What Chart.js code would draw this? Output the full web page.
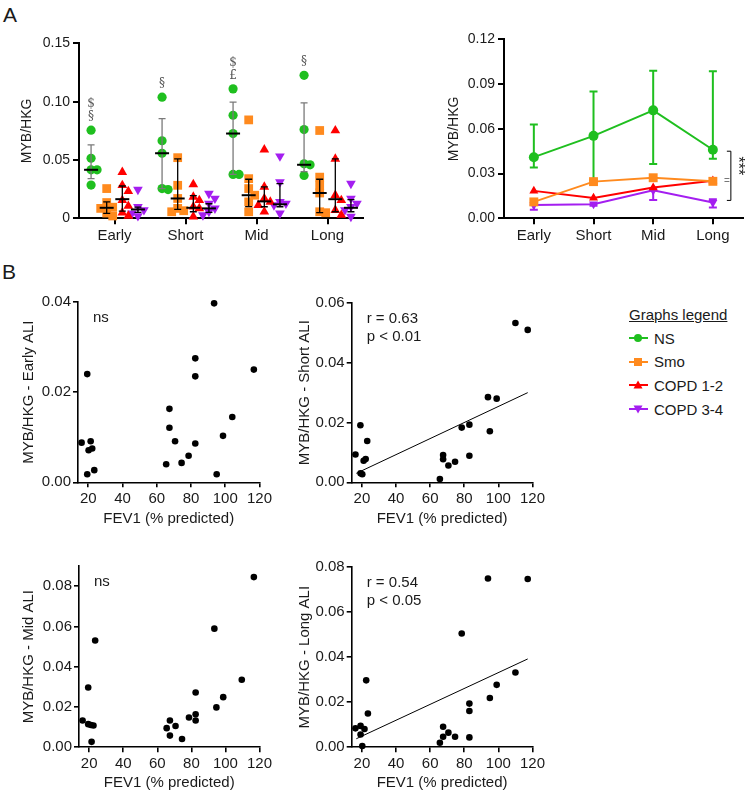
<!DOCTYPE html>
<html>
<head>
<meta charset="utf-8">
<script src="https://cdn.jsdelivr.net/npm/chart.js@4.4.1/dist/chart.umd.min.js"></script>
<style>
  body { margin: 0; width: 750px; height: 793px; overflow: hidden; background: #fff; position: relative;
         font-family: 'Liberation Sans', Arial, Helvetica, sans-serif; color: #1a1a1a; }
  canvas { position: absolute; }
  .panel { position: absolute; font-size: 21px; line-height: 21px; }
  #legend { position: absolute; left: 629px; top: 305px; font-size: 15px; }
  #legend .lt { text-decoration: underline; height: 19px; line-height: 19px; white-space: nowrap; }
  #legend .li { position: absolute; left: 0; height: 19px; line-height: 19px; white-space: nowrap; }
  #legend svg { position: absolute; left: 0; top: 3.5px; }
  #legend span { position: absolute; left: 25px; top: 0; }
</style>
</head>
<body>
<div class="panel" style="left:3px;top:4px">A</div>
<div class="panel" style="left:2px;top:261px">B</div>
<canvas id="dotChart"></canvas>
<canvas id="lineChart"></canvas>
<canvas id="earlyChart"></canvas>
<canvas id="shortChart"></canvas>
<canvas id="midChart"></canvas>
<canvas id="longChart"></canvas>
<div id="legend"></div>

<script>
// ---- data ----
const timepoints = ['Early', 'Short', 'Mid', 'Long'];
const groupNames = ['NS', 'Smo', 'COPD 1-2', 'COPD 3-4'];
const groupColors = ['#1fbf1f', '#ff8a1e', '#ff0000', '#a41ef0'];

// panel A left: individual values per timepoint
const nsValues = [
  [0.0756, 0.0515, 0.0416, 0.0416, 0.0285],
  [0.1039, 0.0665, 0.0558, 0.0255, 0.0246],
  [0.111, 0.0884, 0.0727, 0.0376, 0.0376],
  [0.1226, 0.0761, 0.0467, 0.0459, 0.0368]
];
const smoValues = [
  [0.0255, 0.0135, 0.0095, 0.0085, 0.0045, 0.002],
  [0.052, 0.0283, 0.017, 0.0085, 0.0065, 0.0056],
  [0.0844, 0.034, 0.0255, 0.0198, 0.0141, 0.0056],
  [0.0753, 0.0353, 0.0283, 0.0217, 0.0056, 0.0048]
];
const copd12Values = [
  [0.0396, 0.0283, 0.0232, 0.0155, 0.0105, 0.0048, 0.002],
  [0.0291, 0.0184, 0.0155, 0.0099, 0.0085, 0.0014],
  [0.0589, 0.0269, 0.017, 0.0141, 0.0113, 0.0056],
  [0.0753, 0.051, 0.0198, 0.0155, 0.007, 0.0028]
];
const copd34Values = [
  [0.0246, 0.0099, 0.0071, 0.0042, 0.002],
  [0.0212, 0.017, 0.0127, 0.0085, 0.0056, 0.0028],
  [0.0532, 0.0311, 0.0141, 0.0127, 0.0113, 0.0042],
  [0.0297, 0.017, 0.0127, 0.0099, 0.0071, 0.0014]
];
// medians and interquartile range
const nsMedian = [0.0416, 0.0558, 0.0727, 0.0459];
const nsLow = [0.034, 0.0255, 0.0376, 0.040];
const nsHigh = [0.063, 0.0855, 0.0997, 0.099];
const smoMedian = [0.009, 0.017, 0.0198, 0.0217];
const smoLow = [0.0042, 0.0076, 0.010, 0.0048];
const smoHigh = [0.0141, 0.051, 0.0335, 0.0335];
const copd12Median = [0.0164, 0.009, 0.0145, 0.0164];
const copd12Low = [0.0062, 0.0056, 0.0099, 0.0056];
const copd12High = [0.0277, 0.0195, 0.027, 0.051];
const copd34Median = [0.0076, 0.0085, 0.012, 0.009];
const copd34Low = [0.005, 0.005, 0.0099, 0.0056];
const copd34High = [0.0095, 0.0125, 0.0297, 0.016];
// significance marks above NS, bottom to top
const nsMarks = [['§', '$'], ['§'], ['£', '$'], ['§']];
const dotTicks = [0, 0.05, 0.10, 0.15];

// panel A right: group summary over time
const nsMean = [0.041, 0.0553, 0.0724, 0.046];
const nsMeanLow = [0.034, 0.0255, 0.0365, 0.040];
const nsMeanHigh = [0.063, 0.085, 0.099, 0.0987];
const smoMean = [0.011, 0.0246, 0.0272, 0.0248];
const copd12Mean = [0.0184, 0.0137, 0.0206, 0.0252];
const copd34Mean = [0.0089, 0.0095, 0.0188, 0.0106];
const copd34MeanLow = [0.0058, 0.0085, 0.0122, 0.0073];
const copd34MeanHigh = [0.0089, 0.0095, 0.0188, 0.0128];
const lineTicks = [0, 0.03, 0.06, 0.09, 0.12];
const bracketRange = [0.012, 0.045];

// panel B: FEV1 vs MYB/HKG
const fevTicks = [20, 40, 60, 80, 100, 120];
const earlyFev = [16.1, 19.4, 19.4, 21.4, 20.2, 22.3, 23.5, 65.5, 67.4, 67.4, 70.7, 74.5, 78.6, 82.5, 82.5, 82.5, 93.5, 95, 98.7, 104.1, 116.7];
const earlyMyb = [0.0088, 0.024, 0.0018, 0.0091, 0.0071, 0.0075, 0.0027, 0.004, 0.0163, 0.0121, 0.0091, 0.0043, 0.0059, 0.0275, 0.0235, 0.0086, 0.0397, 0.0018, 0.0103, 0.0145, 0.025];
const shortFev = [16.2, 19.1, 19.2, 20.2, 21, 22.2, 23.1, 65.7, 67.6, 67.6, 70.7, 74.6, 78.5, 83, 83, 93.9, 99, 95, 110, 117.2];
const shortMyb = [0.0093, 0.0191, 0.003, 0.0027, 0.0072, 0.0078, 0.0138, 0.0011, 0.0091, 0.0077, 0.0056, 0.0069, 0.0183, 0.0193, 0.0089, 0.0285, 0.028, 0.0171, 0.0533, 0.051];
const shortFitFev = [16.7, 117.2];
const shortFitMyb = [0.003, 0.030];
const midFev = [16.1, 19.4, 19.4, 21, 22.5, 21.4, 23.5, 65.5, 67.4, 67.4, 70.7, 74.5, 78.6, 82.5, 82.5, 82.5, 93.5, 94.7, 98.7, 109.6, 116.7];
const midMyb = [0.0133, 0.0297, 0.0115, 0.0111, 0.0108, 0.0027, 0.053, 0.0095, 0.0133, 0.0058, 0.0106, 0.0041, 0.0148, 0.0272, 0.0164, 0.0133, 0.0589, 0.0198, 0.0249, 0.0335, 0.0845];
const longFev = [16.2, 19.2, 19.2, 20.2, 21.5, 22.5, 23.5, 65.7, 67.6, 67.6, 70.7, 74.6, 78.5, 83, 83, 83, 93.9, 117.2, 110, 99, 95];
const longMyb = [0.0084, 0.0095, 0.0057, 0.0006, 0.0081, 0.0297, 0.015, 0.002, 0.0091, 0.0047, 0.0065, 0.0047, 0.0505, 0.0194, 0.0161, 0.0044, 0.0749, 0.0747, 0.0332, 0.0277, 0.0219];
const longFitFev = [16.7, 117.2];
const longFitMyb = [0.0038, 0.0392];

// ---- setup ----
Chart.defaults.font.family = "'Liberation Sans', Arial, Helvetica, sans-serif";
Chart.defaults.color = '#1a1a1a';
Chart.defaults.animation = false;
Chart.defaults.events = [];
Chart.defaults.plugins.legend.display = false;
Chart.defaults.plugins.tooltip.enabled = false;

const pointStyles = ['circle', 'rect', 'triangle', 'triangle'];
const pointRotations = [0, 0, 0, 180];

// place a canvas so that its plot area lands on the given box
function frame(id, p) {
  const left = Math.round(p.titleX - 0.6 * p.titleSize);
  const top = Math.round(p.T - 10);
  const bottom = Math.round(p.bottom);
  const width = Math.round(p.R + p.padR - left);
  const c = document.getElementById(id);
  c.width = width;
  c.height = bottom - top;
  c.style.left = left + 'px';
  c.style.top = top + 'px';
  return { yW: p.L - left, xH: bottom - p.B, padR: width - (p.R - left) };
}

function axis(fs, lw, extra) {
  return Object.assign({
    border: { color: '#000', width: lw },
    grid: { drawOnChartArea: false, color: '#000', lineWidth: lw, tickLength: 6, tickWidth: lw },
    ticks: { color: '#1a1a1a', font: { size: fs }, padding: 3, maxRotation: 0, autoSkip: false }
  }, extra);
}

function fixedTicks(list) {
  return s => { s.ticks = list.map(v => ({ value: v })); };
}

// ---- A left: dot plot ----
const groupValues = [nsValues, smoValues, copd12Values, copd34Values];
const groupMedians = [nsMedian, smoMedian, copd12Median, copd34Median];
const groupLows = [nsLow, smoLow, copd12Low, copd34Low];
const groupHighs = [nsHigh, smoHigh, copd12High, copd34High];
const groupOffsets = [-0.33, -0.11, 0.11, 0.33];

const gDot = frame('dotChart', { L: 79, T: 41.7, R: 363, B: 218.3, titleX: 27.5, titleSize: 14, bottom: 250, padR: 10 });
const dotPxPerUnit = 71, dotPxPerValue = (218.3 - 41.7) / 0.15;

// spread points of similar height sideways, like a beeswarm
function swarm(values, center) {
  const order = values.map((v, i) => i).sort((a, b) => values[b] - values[a]);
  const placed = [];
  const out = [];
  order.forEach(i => {
    const v = values[i];
    const near = placed.filter(p => Math.abs(p.v - v) * dotPxPerValue < 7);
    const cands = [0, 6, -6, 12, -12];
    const off = cands.find(c => near.every(p => Math.abs(p.off - c) >= 6)) ?? 0;
    placed.push({ v, off });
    out.push({ x: center + off / dotPxPerUnit, y: v });
  });
  return out;
}

const dotExtras = {
  id: 'dotExtras',
  afterDatasetsDraw(chart) {
    const { ctx, scales: { x, y } } = chart;
    ctx.save();
    groupMedians.forEach((med, gi) => {
      med.forEach((m, ci) => {
        const cx = x.getPixelForValue(ci + 1 + groupOffsets[gi]);
        const lo = y.getPixelForValue(groupLows[gi][ci]);
        const hi = y.getPixelForValue(groupHighs[gi][ci]);
        const my = y.getPixelForValue(m);
        ctx.strokeStyle = gi === 0 ? '#7a7a7a' : '#000';
        ctx.lineWidth = 1.3;
        ctx.beginPath();
        ctx.moveTo(cx, lo); ctx.lineTo(cx, hi);
        ctx.moveTo(cx - 3.5, lo); ctx.lineTo(cx + 3.5, lo);
        ctx.moveTo(cx - 3.5, hi); ctx.lineTo(cx + 3.5, hi);
        ctx.stroke();
        ctx.strokeStyle = '#000';
        ctx.lineWidth = 2;
        ctx.beginPath();
        ctx.moveTo(cx - 7, my); ctx.lineTo(cx + 7, my);
        ctx.stroke();
      });
    });
    ctx.fillStyle = '#555';
    ctx.font = "12px 'DejaVu Serif', serif";
    ctx.textAlign = 'center';
    ctx.textBaseline = 'middle';
    nsMarks.forEach((marks, ci) => {
      const cx = x.getPixelForValue(ci + 1 + groupOffsets[0]);
      const top = y.getPixelForValue(Math.max(...nsValues[ci]));
      marks.forEach((m, k) => ctx.fillText(m, cx, top - 13 - 13 * k));
    });
    ctx.restore();
  }
};

new Chart(document.getElementById('dotChart'), {
  type: 'scatter',
  data: {
    datasets: groupValues.map((vals, gi) => ({
      label: groupNames[gi],
      data: vals.flatMap((v, ci) => swarm(v, ci + 1 + groupOffsets[gi])),
      backgroundColor: groupColors[gi],
      borderColor: groupColors[gi],
      borderWidth: 0,
      pointStyle: pointStyles[gi],
      rotation: pointRotations[gi],
      pointRadius: [4.6, 6.2, 5.6, 5.6][gi],
      clip: false
    }))
  },
  options: {
    responsive: false,
    layout: { padding: { top: 10, right: gDot.padR, left: 0, bottom: 0 } },
    scales: {
      x: axis(15, 2, {
        type: 'linear', min: 0.5, max: 4.5,
        afterBuildTicks: s => { s.ticks = timepoints.map((t, i) => ({ value: i + 1 })); },
        afterFit: s => { s.height = gDot.xH; }
      }),
      y: axis(14, 2, {
        min: 0, max: 0.15,
        afterBuildTicks: fixedTicks(dotTicks),
        afterFit: s => { s.width = gDot.yW; },
        title: { display: true, text: 'MYB/HKG', font: { size: 14 }, color: '#1a1a1a', padding: 0 }
      })
    }
  },
  plugins: [dotExtras]
});
// tick label text for the dot plot categories
Chart.getChart('dotChart').options.scales.x.ticks.callback = v => timepoints[Math.round(v) - 1];
Chart.getChart('dotChart').update();

// ---- A right: summary lines ----
const gLine = frame('lineChart', { L: 504, T: 37.7, R: 747, B: 218.3, titleX: 454, titleSize: 14, bottom: 250, padR: 2 });
const lineSeries = [nsMean, smoMean, copd12Mean, copd34Mean];
const lineErrors = [[nsMeanLow, nsMeanHigh], null, null, [copd34MeanLow, copd34MeanHigh]];

const lineExtras = {
  id: 'lineExtras',
  beforeDatasetsDraw(chart) {
    const { ctx, scales: { x, y } } = chart;
    ctx.save();
    lineErrors.forEach((err, gi) => {
      if (!err) return;
      ctx.strokeStyle = groupColors[gi];
      ctx.lineWidth = 2;
      err[0].forEach((lo, ci) => {
        const cx = x.getPixelForValue(ci);
        const pl = y.getPixelForValue(lo), ph = y.getPixelForValue(err[1][ci]);
        ctx.beginPath();
        ctx.moveTo(cx, pl); ctx.lineTo(cx, ph);
        ctx.moveTo(cx - 4, pl); ctx.lineTo(cx + 4, pl);
        ctx.moveTo(cx - 4, ph); ctx.lineTo(cx + 4, ph);
        ctx.stroke();
      });
    });
    ctx.restore();
  },
  afterDatasetsDraw(chart) {
    const { ctx, scales: { x, y } } = chart;
    const bx = x.getPixelForValue(timepoints.length - 1) + 18;
    const b0 = y.getPixelForValue(bracketRange[0]), b1 = y.getPixelForValue(bracketRange[1]);
    ctx.save();
    ctx.strokeStyle = '#000';
    ctx.lineWidth = 1;
    ctx.beginPath();
    ctx.moveTo(bx - 4, b1); ctx.lineTo(bx, b1); ctx.lineTo(bx, b0); ctx.lineTo(bx - 4, b0);
    ctx.stroke();
    ctx.fillStyle = '#777';
    ctx.font = '10px Liberation Sans';
    ctx.textAlign = 'right';
    ctx.textBaseline = 'middle';
    ctx.fillText('=', bx - 1, y.getPixelForValue(smoMean[3]));
    ctx.fillStyle = '#1a1a1a';
    ctx.font = '16px Liberation Sans';
    ctx.translate(bx + 7, (b0 + b1) / 2 - 10);
    ctx.rotate(Math.PI / 2);
    ctx.textAlign = 'center';
    ctx.fillText('***', 0, 0);
    ctx.restore();
  }
};

new Chart(document.getElementById('lineChart'), {
  type: 'line',
  data: {
    labels: timepoints,
    datasets: lineSeries.map((vals, gi) => ({
      label: groupNames[gi],
      data: vals,
      borderColor: groupColors[gi],
      backgroundColor: groupColors[gi],
      borderWidth: 2,
      pointStyle: pointStyles[gi],
      rotation: pointRotations[gi],
      pointRadius: [5, 6.3, 5.2, 5.2][gi],
      pointBorderWidth: 0,
      tension: 0,
      clip: false
    }))
  },
  options: {
    responsive: false,
    layout: { padding: { top: 10, right: gLine.padR, left: 0, bottom: 0 } },
    scales: {
      x: axis(15, 2, {
        type: 'category', offset: true,
        grid: { drawOnChartArea: false, color: '#000', lineWidth: 2, tickLength: 6, tickWidth: 2, offset: false },
        afterFit: s => { s.height = gLine.xH; }
      }),
      y: axis(14, 2, {
        min: 0, max: 0.12,
        afterBuildTicks: fixedTicks(lineTicks),
        ticks: { color: '#1a1a1a', font: { size: 14 }, padding: 3, callback: v => v.toFixed(2) },
        afterFit: s => { s.width = gLine.yW; },
        title: { display: true, text: 'MYB/HKG', font: { size: 14 }, color: '#1a1a1a', padding: 0 }
      })
    }
  },
  plugins: [lineExtras]
});

// ---- B: correlations ----
function notesPlugin(lines) {
  return {
    id: 'notes',
    afterDraw(chart) {
      const { ctx, chartArea } = chart;
      ctx.save();
      ctx.fillStyle = '#1a1a1a';
      ctx.font = '15px Liberation Sans';
      ctx.textBaseline = 'middle';
      lines.forEach((t, i) => ctx.fillText(t, chartArea.left + 15, chartArea.top + 16 + 17.5 * i));
      ctx.restore();
    }
  };
}

function corrChart(id, box, fev, myb, yMax, yTicks, title, notes, fit) {
  const g = frame(id, box);
  const datasets = [{
    data: fev.map((f, i) => ({ x: f, y: myb[i] })),
    backgroundColor: '#000',
    borderWidth: 0,
    pointRadius: 3.3,
    clip: false
  }];
  if (fit) {
    datasets.push({
      data: fit[0].map((f, i) => ({ x: f, y: fit[1][i] })),
      showLine: true,
      borderColor: '#000',
      borderWidth: 1,
      pointRadius: 0
    });
  }
  new Chart(document.getElementById(id), {
    type: 'scatter',
    data: { datasets },
    options: {
      responsive: false,
      layout: { padding: { top: 10, right: g.padR, left: 0, bottom: 0 } },
      scales: {
        x: axis(15, 1.6, {
          min: 14, max: 120,
          afterBuildTicks: fixedTicks(fevTicks),
          grid: { drawOnChartArea: false, color: '#000', lineWidth: 1.6, tickLength: 5, tickWidth: 1.6 },
          afterFit: s => { s.height = g.xH; },
          title: { display: true, text: 'FEV1 (% predicted)', font: { size: 15 }, color: '#1a1a1a', padding: 0 }
        }),
        y: axis(15, 1.6, {
          min: 0, max: yMax,
          afterBuildTicks: fixedTicks(yTicks),
          grid: { drawOnChartArea: false, color: '#000', lineWidth: 1.6, tickLength: 5, tickWidth: 1.6 },
          ticks: { color: '#1a1a1a', font: { size: 15 }, padding: 2, callback: v => v.toFixed(2) },
          afterFit: s => { s.width = g.yW; },
          title: { display: true, text: title, font: { size: 15 }, color: '#1a1a1a', padding: 0 }
        })
      }
    },
    plugins: [notesPlugin(notes)]
  });
}

corrChart('earlyChart', { L: 78, T: 301, R: 261, B: 482.3, titleX: 28.7, titleSize: 15, bottom: 528, padR: 14 },
  earlyFev, earlyMyb, 0.04, [0, 0.02, 0.04], 'MYB/HKG - Early ALI', ['ns'], null);
corrChart('shortChart', { L: 351.7, T: 302.3, R: 534, B: 482.3, titleX: 305.3, titleSize: 15, bottom: 528, padR: 14 },
  shortFev, shortMyb, 0.06, [0, 0.02, 0.04, 0.06], 'MYB/HKG - Short ALI', ['r = 0.63', 'p < 0.01'], [shortFitFev, shortFitMyb]);
corrChart('midChart', { L: 79, T: 565, R: 261, B: 747.3, titleX: 29, titleSize: 15, bottom: 792, padR: 14 },
  midFev, midMyb, 0.09, [0, 0.02, 0.04, 0.06, 0.08], 'MYB/HKG - Mid ALI', ['ns'], null);
corrChart('longChart', { L: 351.7, T: 565.7, R: 534, B: 747.3, titleX: 305.3, titleSize: 15, bottom: 792, padR: 14 },
  longFev, longMyb, 0.08, [0, 0.02, 0.04, 0.06, 0.08], 'MYB/HKG - Long ALI', ['r = 0.54', 'p < 0.05'], [longFitFev, longFitMyb]);

// ---- legend ----
function symbol(gi) {
  const c = groupColors[gi];
  const shapes = [
    `<circle cx="9" cy="6" r="4" fill="${c}"/>`,
    `<rect x="5" y="2" width="8" height="8" fill="${c}"/>`,
    `<polygon points="9,1.5 13.5,9.5 4.5,9.5" fill="${c}"/>`,
    `<polygon points="9,10.5 13.5,2.5 4.5,2.5" fill="${c}"/>`
  ];
  return `<svg width="19" height="12"><line x1="0" y1="6" x2="19" y2="6" stroke="${c}" stroke-width="2"/>${shapes[gi]}</svg>`;
}
document.getElementById('legend').innerHTML = '<div class="lt">Graphs legend</div>' +
  groupNames.map((n, gi) => `<div class="li" style="top:${23.5 + gi * 23.7}px">${symbol(gi)}<span>${n}</span></div>`).join('');
</script>
</body>
</html>
